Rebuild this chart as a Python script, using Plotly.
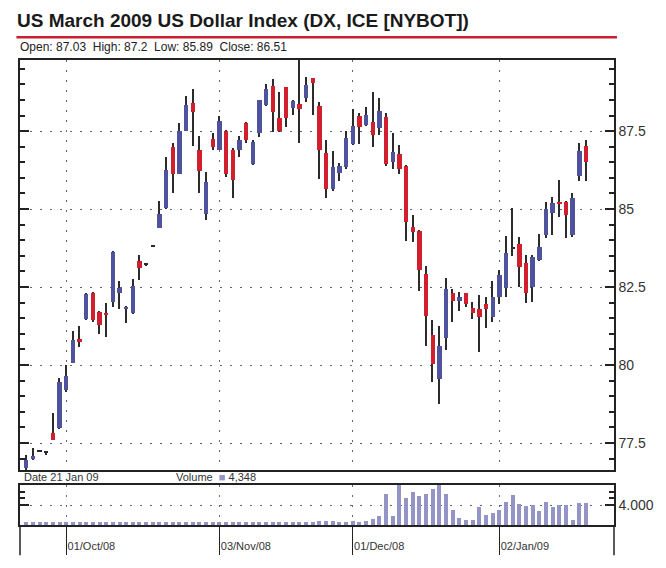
"""US Dollar Index March 2009 futures: daily candles with volume panel."""

import pandas as pd
import plotly.graph_objects as go

# trading days shown on the chart (ICE calendar, Christmas / New Year closed)
holidays = ["2008-12-25", "2009-01-01"]
dates = [
    d.strftime("%Y-%m-%d")
    for d in pd.bdate_range("2008-09-23", "2009-01-21")
    if d.strftime("%Y-%m-%d") not in holidays
]

opens = [
    76.70, 76.98, 77.24, 77.19, 77.83, 77.97, 79.20, 80.07, 80.82, 81.46,
    82.32, 81.70, 81.67, 82.03, 82.30, 81.79, 81.66, 83.34, 83.23, 83.81,
    84.40, 85.02, 86.98, 86.14, 87.51, 88.39, 86.91, 84.84, 87.25, 86.91,
    87.51, 86.91, 86.89, 87.75, 86.46, 87.45, 88.33, 88.94, 87.91, 88.90,
    88.23, 88.37, 88.55, 89.19, 88.30, 86.80, 85.66, 86.16, 86.34, 87.08,
    87.98, 87.69, 87.80, 87.59, 87.96, 86.52, 86.76, 86.38, 84.43, 84.30,
    82.92, 80.96, 79.55, 80.86, 82.32, 82.06, 82.30, 81.84, 81.79, 81.95,
    81.55, 82.19, 82.46, 83.74, 83.88, 83.26, 82.51, 83.37, 84.17, 84.86,
    85.24, 85.23, 84.17, 86.06, 87.03,
]
highs = [
    77.10, 77.34, 77.27, 77.20, 78.45, 79.60, 80.00, 81.10, 81.26, 82.30,
    82.35, 81.72, 81.98, 83.65, 82.70, 81.90, 82.77, 83.53, 83.25, 83.83,
    85.27, 86.66, 87.11, 87.75, 88.63, 88.84, 87.34, 86.20, 87.43, 87.98,
    87.55, 86.95, 87.34, 87.78, 87.20, 88.50, 89.01, 89.16, 88.76, 88.92,
    88.49, 89.90, 89.24, 89.20, 88.44, 87.23, 86.87, 86.48, 87.51, 88.20,
    88.09, 88.28, 88.76, 88.55, 88.07, 87.43, 87.05, 86.40, 84.81, 84.32,
    83.17, 81.44, 81.25, 82.78, 82.43, 82.35, 82.32, 82.03, 82.24, 82.19,
    82.70, 83.05, 84.13, 85.02, 84.11, 83.53, 83.53, 84.20, 85.23, 85.39,
    85.93, 85.25, 85.52, 87.13, 87.20,
]
lows = [
    76.60, 76.95, 77.20, 77.10, 77.60, 77.95, 79.15, 80.05, 80.57, 81.44,
    81.37, 80.98, 80.89, 81.87, 81.79, 81.36, 81.64, 82.72, 83.20, 83.79,
    84.38, 85.00, 85.52, 86.12, 87.50, 87.02, 85.52, 84.65, 86.91, 86.90,
    86.04, 85.34, 86.68, 87.13, 86.41, 87.30, 88.30, 87.48, 87.48, 87.62,
    88.01, 87.13, 88.44, 88.01, 85.98, 85.34, 85.59, 85.91, 86.30, 87.05,
    87.08, 87.66, 87.00, 87.37, 86.38, 86.30, 86.12, 83.98, 83.95, 82.38,
    80.61, 79.46, 78.75, 80.48, 81.39, 81.74, 81.85, 81.46, 80.43, 81.18,
    81.39, 81.96, 82.19, 83.49, 82.49, 81.98, 82.03, 83.35, 84.06, 84.17,
    84.75, 84.06, 84.09, 85.91, 85.89,
]
closes = [
    76.95, 77.09, 77.24, 77.19, 77.60, 79.46, 79.66, 80.80, 80.76, 82.27,
    81.44, 81.28, 81.60, 83.63, 82.46, 81.87, 82.54, 83.10, 83.23, 83.81,
    84.84, 86.25, 86.14, 87.51, 88.33, 88.12, 86.22, 85.88, 86.98, 87.83,
    86.14, 85.93, 87.21, 87.23, 87.16, 88.49, 88.84, 88.12, 87.51, 87.91,
    88.46, 88.20, 88.97, 89.05, 86.89, 85.66, 86.34, 86.38, 87.27, 87.66,
    87.62, 88.01, 87.37, 88.15, 86.46, 86.84, 86.27, 84.59, 84.27, 83.05,
    81.57, 80.03, 80.62, 82.43, 82.06, 82.19, 81.96, 81.68, 81.53, 81.79,
    82.17, 82.88, 83.60, 83.74, 83.13, 82.32, 83.47, 83.77, 84.99, 85.18,
    85.18, 84.81, 85.37, 86.87, 86.51,
]
volumes = [
    1400, 1400, 1400, 1400, 1400, 1400, 1400, 1400, 1400, 1400,
    1400, 1400, 1400, 1400, 1400, 1400, 1400, 1400, 1400, 1400,
    1400, 1400, 1400, 1400, 1400, 1400, 1400, 1400, 1400, 1400,
    1400, 1400, 1400, 1400, 1400, 1400, 1400, 1400, 1400, 1400,
    1400, 1400, 1400, 1400, 1550, 1550, 1550, 1450, 1400, 1640,
    1450, 1650, 1900, 2310, 5650, 2310, 7200, 5040, 6020, 5360,
    5650, 6380, 7200, 5650, 3290, 2090, 1730, 1730, 3650, 2450,
    2820, 3290, 4380, 5470, 4130, 3840, 4020, 3110, 4490, 3650,
    4020, 4020, 1730, 4270, 4348,
]

date_ticks = ["2008-10-01", "2008-11-03", "2008-12-01", "2009-01-02"]
date_labels = ["01/Oct/08", "03/Nov/08", "01/Dec/08", "02/Jan/09"]
price_ticks = [77.5, 80, 82.5, 85, 87.5]
price_labels = ["77.5", "80", "82.5", "85", "87.5"]

BLUE = "#4f539e"
RED = "#d21f2d"
WICK = "#2b2b2b"
VOL = "#9494c6"
INK = "#222222"
FONT = "Liberation Sans, Arial, sans-serif"
DOTS = "2px,8px"

body_base = [min(o, c) for o, c in zip(opens, closes)]
body_size = [max(abs(c - o), 0.04) for o, c in zip(opens, closes)]
body_color = [BLUE if c > o else RED if c < o else WICK for o, c in zip(opens, closes)]

fig = go.Figure()
# wicks
fig.add_trace(
    go.Bar(
        x=dates,
        base=lows,
        y=[h - l for h, l in zip(highs, lows)],
        width=0.22,
        marker=dict(color=WICK, line=dict(width=0)),
        hoverinfo="skip",
        showlegend=False,
    )
)
# candle bodies
fig.add_trace(
    go.Bar(
        x=dates,
        base=body_base,
        y=body_size,
        width=0.66,
        marker=dict(color=body_color, line=dict(width=0)),
        customdata=list(zip(opens, highs, lows, closes)),
        hovertemplate="%{x}<br>O %{customdata[0]} H %{customdata[1]}"
        "<br>L %{customdata[2]} C %{customdata[3]}<extra></extra>",
        showlegend=False,
    )
)
# volume
fig.add_trace(
    go.Bar(
        x=dates,
        y=volumes,
        width=0.6,
        marker=dict(color=VOL, line=dict(width=0)),
        xaxis="x2",
        yaxis="y2",
        showlegend=False,
    )
)

xcommon = dict(
    type="category",
    categoryorder="array",
    categoryarray=dates,
    range=[-0.93, 88.2],
    tickvals=date_ticks,
    showgrid=True,
    gridcolor="#666666",
    griddash=DOTS,
    gridwidth=1,
    showline=True,
    linecolor=INK,
    linewidth=1.5,
    mirror=True,
    zeroline=False,
)

# the page body adds an 8px offset, so the figure is 8px smaller than the window
fig.update_layout(
    width=658,
    height=560,
    margin=dict(l=10, r=52, t=52, b=43),
    paper_bgcolor="white",
    plot_bgcolor="white",
    barmode="overlay",
    bargap=0,
    font=dict(family=FONT, color=INK, size=12),
    xaxis=dict(
        xcommon,
        domain=[0, 1],
        anchor="y",
        showticklabels=False,
        ticks="",
    ),
    yaxis=dict(
        domain=[0.118, 1],
        anchor="x",
        side="right",
        range=[76.63, 89.78],
        tickvals=price_ticks,
        ticktext=price_labels,
        ticks="inside",
        ticklen=9,
        tickwidth=1.5,
        tickcolor=INK,
        minor=dict(dtick=0.5, tick0=77.5, ticks="inside", ticklen=5, tickcolor=INK, showgrid=False),
        showgrid=True,
        gridcolor="#666666",
        griddash=DOTS,
        showline=True,
        linecolor=INK,
        linewidth=1.5,
        mirror="ticks",
        zeroline=False,
        tickfont=dict(size=14, color="#333333"),
    ),
    xaxis2=dict(
        xcommon,
        domain=[0, 1],
        anchor="y2",
        matches="x",
        ticktext=date_labels,
        ticks="outside",
        ticklen=28,
        tickwidth=1.2,
        tickcolor=INK,
        ticklabelposition="outside right",
        ticklabelstandoff=10,
        tickfont=dict(size=11, color="#333333"),
    ),
    yaxis2=dict(
        domain=[0, 0.086],
        anchor="x2",
        side="right",
        range=[1000, 7000],
        tickvals=[4000],
        ticktext=["4.000"],
        ticks="inside",
        ticklen=9,
        tickwidth=1.5,
        tickcolor=INK,
        minor=dict(tickvals=[5000, 6000, 7000], ticks="inside", ticklen=5, tickcolor=INK, showgrid=False),
        showgrid=True,
        gridcolor="#666666",
        griddash=DOTS,
        showline=True,
        linecolor=INK,
        linewidth=1.5,
        mirror="ticks",
        zeroline=False,
        tickfont=dict(size=14, color="#333333"),
    ),
)

# header: title, red rule, last bar values
fig.add_annotation(
    text="<b>US March 2009 US Dollar Index (DX, ICE [NYBOT])</b>",
    xref="paper", yref="paper", x=-0.008, y=1.086,
    xanchor="left", yanchor="middle", showarrow=False,
    font=dict(size=19, color="#1a1a1a"),
)
fig.add_shape(
    type="line", xref="paper", yref="paper",
    x0=-0.006, x1=1.005, y0=1.049, y1=1.049,
    line=dict(color="#c8202f", width=2.5),
)
fig.add_annotation(
    text="Open: 87.03  High: 87.2  Low: 85.89  Close: 86.51",
    xref="paper", yref="paper", x=-0.004, y=1.028,
    xanchor="left", yanchor="middle", showarrow=False,
    font=dict(size=12, color="#222222"),
)
fig.add_annotation(
    text="Date 21 Jan 09",
    xref="paper", yref="paper", x=0.004, y=0.103,
    xanchor="left", yanchor="middle", showarrow=False,
    font=dict(size=11, color="#333333"),
)
fig.add_annotation(
    text=f"Volume  <span style='color:{VOL}'>■</span> 4,348",
    xref="paper", yref="paper", x=0.26, y=0.103,
    xanchor="left", yanchor="middle", showarrow=False,
    font=dict(size=11, color="#333333"),
)
# frame sides run down past the volume axis
for xp in (0, 1):
    fig.add_shape(
        type="line", xref="paper", yref="paper",
        x0=xp, x1=xp, y0=0, y1=-0.065,
        line=dict(color=INK, width=1.5),
    )

fig.write_html("out.html")
